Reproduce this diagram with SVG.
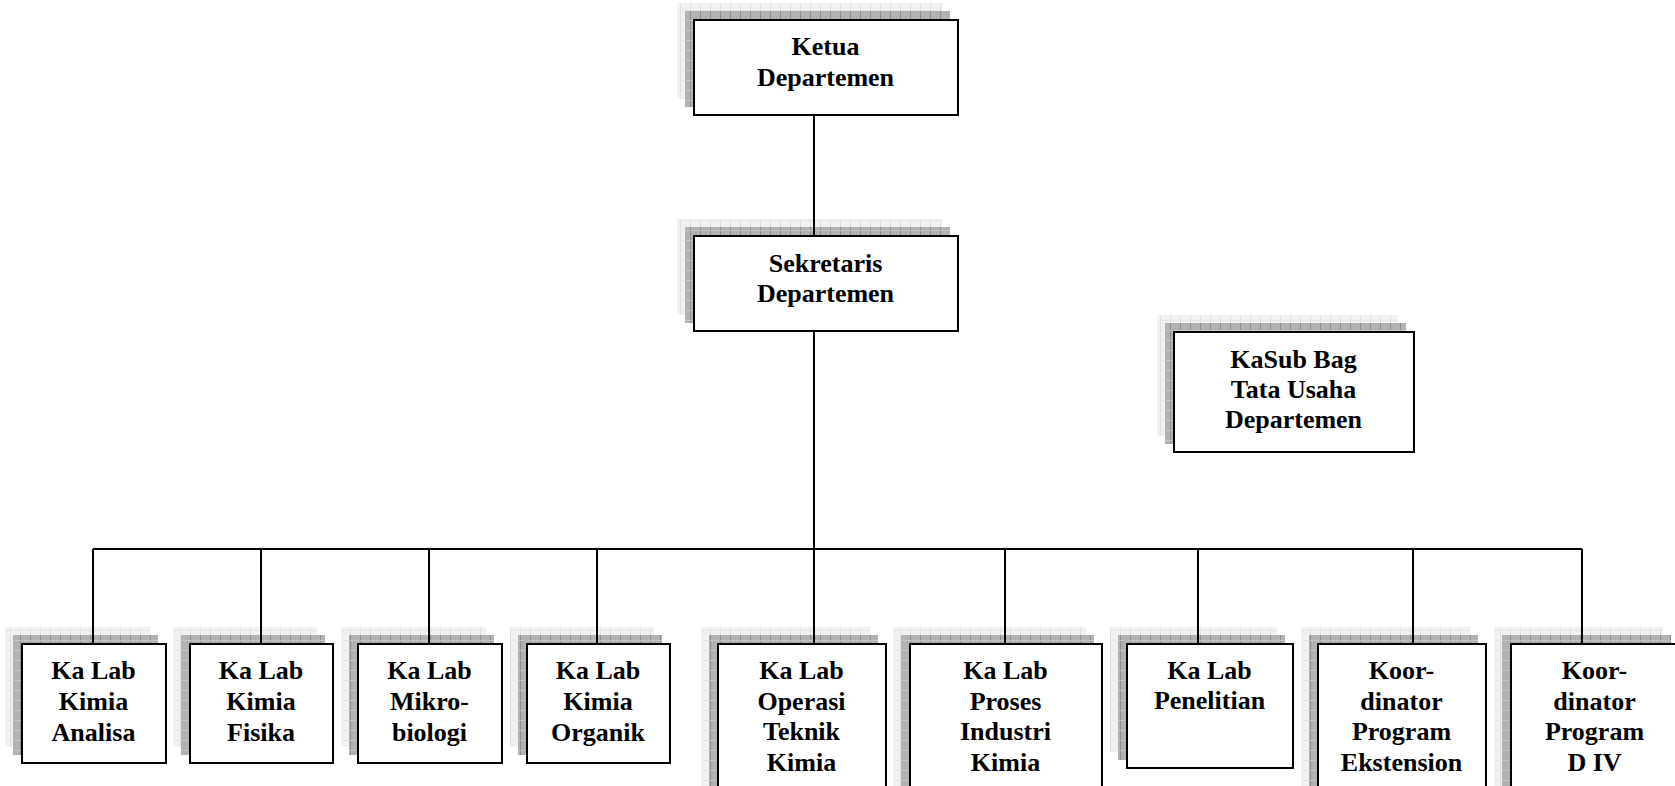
<svg xmlns="http://www.w3.org/2000/svg" width="1675" height="786" viewBox="0 0 1675 786">
<defs>
<pattern id="pd" width="10" height="10" patternUnits="userSpaceOnUse">
<rect width="10" height="10" fill="#b2b2b2"/>
<rect x="0" y="0" width="1" height="10" fill="#8e8e8e"/>
<rect x="0" y="0" width="10" height="1" fill="#c4c4c4"/>
</pattern>
<pattern id="pl" width="10" height="10" patternUnits="userSpaceOnUse">
<rect width="10" height="10" fill="#f1f1f1"/>
<rect x="0" y="0" width="1" height="10" fill="#e0e0e0"/>
<rect x="0" y="0" width="10" height="1" fill="#e6e6e6"/>
</pattern>
</defs>
<style>
.sl{fill:url(#pl)}
.sd{fill:url(#pd)}
.bx{fill:#fff;stroke:#000;stroke-width:2}
.t{font-family:"Liberation Serif","Times New Roman",serif;font-weight:bold;font-size:26px;fill:#000;text-anchor:middle}
.c{stroke:#000;stroke-width:2;fill:none}
</style>
<rect width="1675" height="786" fill="#fff"/>

<g id="ketua">
<rect class="sl" x="677" y="3" width="265" height="96"/>
<rect class="sd" x="685" y="11" width="265" height="96"/>
<rect class="bx" x="694" y="20" width="264" height="95"/>
<text class="t" x="825.5" y="55">Ketua</text>
<text class="t" x="825.5" y="86">Departemen</text>
</g>

<g id="sekretaris">
<rect class="sl" x="677" y="219" width="265" height="96"/>
<rect class="sd" x="685" y="227" width="265" height="96"/>
<rect class="bx" x="694" y="236" width="264" height="95"/>
<text class="t" x="825.5" y="272">Sekretaris</text>
<text class="t" x="825.5" y="302">Departemen</text>
</g>

<g id="kasub">
<rect class="sl" x="1157" y="315" width="241" height="121"/>
<rect class="sd" x="1165" y="323" width="241" height="121"/>
<rect class="bx" x="1174" y="332" width="240" height="120"/>
<text class="t" x="1293.5" y="368">KaSub Bag</text>
<text class="t" x="1293.5" y="398">Tata Usaha</text>
<text class="t" x="1293.5" y="428">Departemen</text>
</g>

<g id="lab-analisa">
<rect class="sl" x="5" y="627" width="145" height="120"/>
<rect class="sd" x="13" y="635" width="145" height="120"/>
<rect class="bx" x="22" y="644" width="144" height="119"/>
<text class="t" x="93.5" y="679">Ka Lab</text>
<text class="t" x="93.5" y="710">Kimia</text>
<text class="t" x="93.5" y="741">Analisa</text>
</g>

<g id="lab-fisika">
<rect class="sl" x="173" y="627" width="144" height="120"/>
<rect class="sd" x="181" y="635" width="144" height="120"/>
<rect class="bx" x="190" y="644" width="143" height="119"/>
<text class="t" x="261" y="679">Ka Lab</text>
<text class="t" x="261" y="710">Kimia</text>
<text class="t" x="261" y="741">Fisika</text>
</g>

<g id="lab-mikrobiologi">
<rect class="sl" x="341" y="627" width="145" height="120"/>
<rect class="sd" x="349" y="635" width="145" height="120"/>
<rect class="bx" x="358" y="644" width="144" height="119"/>
<text class="t" x="429.5" y="679">Ka Lab</text>
<text class="t" x="429.5" y="710">Mikro-</text>
<text class="t" x="429.5" y="741">biologi</text>
</g>

<g id="lab-organik">
<rect class="sl" x="510" y="627" width="144" height="120"/>
<rect class="sd" x="518" y="635" width="144" height="120"/>
<rect class="bx" x="527" y="644" width="143" height="119"/>
<text class="t" x="598" y="679">Ka Lab</text>
<text class="t" x="598" y="710">Kimia</text>
<text class="t" x="598" y="741">Organik</text>
</g>

<g id="lab-operasi">
<rect class="sl" x="701" y="627" width="169" height="160"/>
<rect class="sd" x="709" y="635" width="169" height="160"/>
<rect class="bx" x="718" y="644" width="168" height="160"/>
<text class="t" x="801.5" y="679">Ka Lab</text>
<text class="t" x="801.5" y="710">Operasi</text>
<text class="t" x="801.5" y="740">Teknik</text>
<text class="t" x="801.5" y="771">Kimia</text>
</g>

<g id="lab-proses">
<rect class="sl" x="893" y="627" width="193" height="160"/>
<rect class="sd" x="901" y="635" width="193" height="160"/>
<rect class="bx" x="910" y="644" width="192" height="160"/>
<text class="t" x="1005.5" y="679">Ka Lab</text>
<text class="t" x="1005.5" y="710">Proses</text>
<text class="t" x="1005.5" y="740">Industri</text>
<text class="t" x="1005.5" y="771">Kimia</text>
</g>

<g id="lab-penelitian">
<rect class="sl" x="1110" y="627" width="167" height="125"/>
<rect class="sd" x="1118" y="635" width="167" height="125"/>
<rect class="bx" x="1127" y="644" width="166" height="124"/>
<text class="t" x="1209.5" y="679">Ka Lab</text>
<text class="t" x="1209.5" y="709">Penelitian</text>
</g>

<g id="koord-ekstension">
<rect class="sl" x="1301" y="627" width="169" height="160"/>
<rect class="sd" x="1309" y="635" width="169" height="160"/>
<rect class="bx" x="1318" y="644" width="168" height="160"/>
<text class="t" x="1401.5" y="679">Koor-</text>
<text class="t" x="1401.5" y="710">dinator</text>
<text class="t" x="1401.5" y="740">Program</text>
<text class="t" x="1401.5" y="771">Ekstension</text>
</g>

<g id="koord-d4">
<rect class="sl" x="1494" y="627" width="169" height="160"/>
<rect class="sd" x="1502" y="635" width="169" height="160"/>
<rect class="bx" x="1511" y="644" width="168" height="160"/>
<text class="t" x="1594.5" y="679">Koor-</text>
<text class="t" x="1594.5" y="710">dinator</text>
<text class="t" x="1594.5" y="740">Program</text>
<text class="t" x="1594.5" y="771">D IV</text>
</g>

<g id="connectors">
<line class="c" x1="814" y1="115" x2="814" y2="235"/>
<line class="c" x1="814" y1="331" x2="814" y2="643"/>
<line class="c" x1="93" y1="549" x2="1582" y2="549"/>
<line class="c" x1="93" y1="549" x2="93" y2="643"/>
<line class="c" x1="261" y1="549" x2="261" y2="643"/>
<line class="c" x1="429" y1="549" x2="429" y2="643"/>
<line class="c" x1="597" y1="549" x2="597" y2="643"/>
<line class="c" x1="1005" y1="549" x2="1005" y2="643"/>
<line class="c" x1="1198" y1="549" x2="1198" y2="643"/>
<line class="c" x1="1413" y1="549" x2="1413" y2="643"/>
<line class="c" x1="1582" y1="549" x2="1582" y2="643"/>
</g>
</svg>
